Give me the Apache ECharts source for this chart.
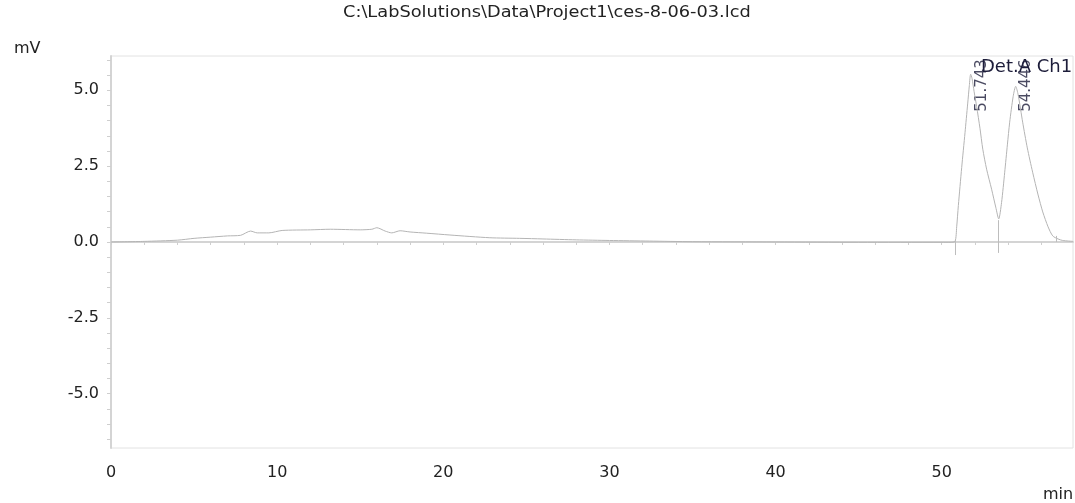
<!DOCTYPE html>
<html>
<head>
<meta charset="utf-8">
<script src="https://cdn.jsdelivr.net/npm/echarts@6/dist/echarts.min.js"></script>
<style>
  html, body { margin: 0; padding: 0; background: #fff; }
  #grafico { width: 1075px; height: 503px; }
</style>
</head>
<body>
<div id="grafico"></div>
<script>
// chromatogram
let tiempos = [0, 2, 4, 5, 6, 7, 7.8, 8.4, 8.8, 9.5, 10.3, 12, 13.2, 15, 15.7, 16.0, 16.5, 16.9, 17.4, 18, 19, 20.4, 22.8, 24.6, 26, 28, 30, 32.4, 35, 40, 45, 50, 50.5, 50.8,
  50.9, 51.0, 51.2, 51.4, 51.56, 51.66, 51.74, 51.82, 51.95, 52.1, 52.3, 52.47, 52.7, 53.0, 53.25, 53.43, 53.6, 53.79, 53.95, 54.09, 54.3, 54.45, 54.6, 54.87, 55.15, 55.47, 55.8, 56.08, 56.4, 56.68, 57.0, 57.28, 57.9];
let senal = [0.0, 0.02, 0.06, 0.12, 0.16, 0.2, 0.22, 0.36, 0.3, 0.3, 0.38, 0.4, 0.42, 0.4, 0.42, 0.47, 0.36, 0.3, 0.37, 0.33, 0.29, 0.23, 0.14, 0.12, 0.1, 0.07, 0.05, 0.03, 0.01, 0.0, -0.01, -0.01, -0.01, 0.02,
  0.5, 1.2, 2.45, 3.6, 4.55, 5.15, 5.53, 5.4, 4.95, 4.47, 3.75, 3.06, 2.4, 1.74, 1.15, 0.76, 1.3, 2.3, 3.2, 3.95, 4.8, 5.13, 4.85, 3.95, 3.1, 2.3, 1.55, 0.99, 0.5, 0.2, 0.1, 0.05, 0.02];

let picosTiempo = [51.743, 54.446];
let picosAltura = [5.53, 5.13];

// integration marks (start / valley / end)
let marcasTiempo = [50.8, 53.43, 56.9];
let marcasArriba = [0.07, 0.72, 0.2];
let marcasAbajo = [-0.43, -0.36, 0.0];

let yEtiquetas = [-5, -2.5, 0, 2.5, 5];
let yTicks = [];
for (let v = -6.5; v <= 6.01; v += 0.5) yTicks.push(+v.toFixed(1));
let xEtiquetas = [0, 10, 20, 30, 40, 50];
let xTicks = [];
for (let v = 0; v <= 56; v += 2) xTicks.push(v);

let datos = tiempos.map((t, i) => [t, senal[i]]);
let picos = picosTiempo.map((t, i) => ({ value: [t, picosAltura[i]], label: { position: i == 0 ? [12, 38] : [11, 26] } }));
let marcas = marcasTiempo.map((t, i) => [{ coord: [t, marcasArriba[i]] }, { coord: [t, marcasAbajo[i]] }]);

const fuente = 'DejaVu Sans';
var grafico = document.getElementById('grafico');
var myChart = echarts.init(grafico);
var options = {
  animation: false,
  textStyle: { fontFamily: fuente },
  grid: { left: 111, right: 2, top: 56, bottom: 55, show: true, borderColor: '#e2e2e2', borderWidth: 1 },
  graphic: [
    { type: 'text', left: 343, top: 5, scaleX: 1.11, style: { text: 'C:\\LabSolutions\\Data\\Project1\\ces-8-06-03.lcd', fontSize: 16, fill: '#222', fontFamily: fuente } },
    { type: 'text', left: 14, top: 41, style: { text: 'mV', fontSize: 16, fill: '#222', fontFamily: fuente } },
    { type: 'text', left: 1043, top: 487, style: { text: 'min', fontSize: 16, fill: '#222', fontFamily: fuente } },
    { type: 'text', left: 981, top: 58, z: 10, style: { text: 'Det.A Ch1', fontSize: 18, fill: '#1d1d3a', fontFamily: fuente } }
  ],
  xAxis: {
    type: 'value', min: 0, max: 57.9,
    splitLine: { show: false },
    axisLine: { lineStyle: { color: '#d4d4d4', width: 2 } },
    axisTick: { show: true, length: 3, customValues: xTicks, lineStyle: { color: '#cfcfcf' } },
    axisLabel: { customValues: xEtiquetas, margin: 17, fontSize: 16, color: '#222' }
  },
  yAxis: {
    type: 'value', min: -6.79, max: 6.13,
    splitLine: { show: false },
    axisLine: { show: true, lineStyle: { color: '#d4d4d4', width: 2 } },
    axisTick: { show: true, length: 4, customValues: yTicks, lineStyle: { color: '#cfcfcf' } },
    axisLabel: { customValues: yEtiquetas, margin: 12, fontSize: 16, color: '#222', formatter: v => v.toFixed(1) }
  },
  series: [
    {
      type: 'line', data: datos, smooth: 0.25, symbol: 'none',
      lineStyle: { color: '#b4b4b4', width: 1 },
      markLine: { silent: true, symbol: 'none', label: { show: false }, lineStyle: { color: '#bdbdbd', width: 1, type: 'solid' }, data: marcas }
    },
    {
      type: 'scatter', data: picos, symbolSize: 1, itemStyle: { color: 'transparent' },
      label: {
        show: true, rotate: 90, align: 'left', verticalAlign: 'middle',
        fontSize: 15, color: '#1d1d3a', fontFamily: fuente,
        formatter: p => p.value[0].toFixed(3)
      }
    }
  ]
};
myChart.setOption(options);
</script>
</body>
</html>
